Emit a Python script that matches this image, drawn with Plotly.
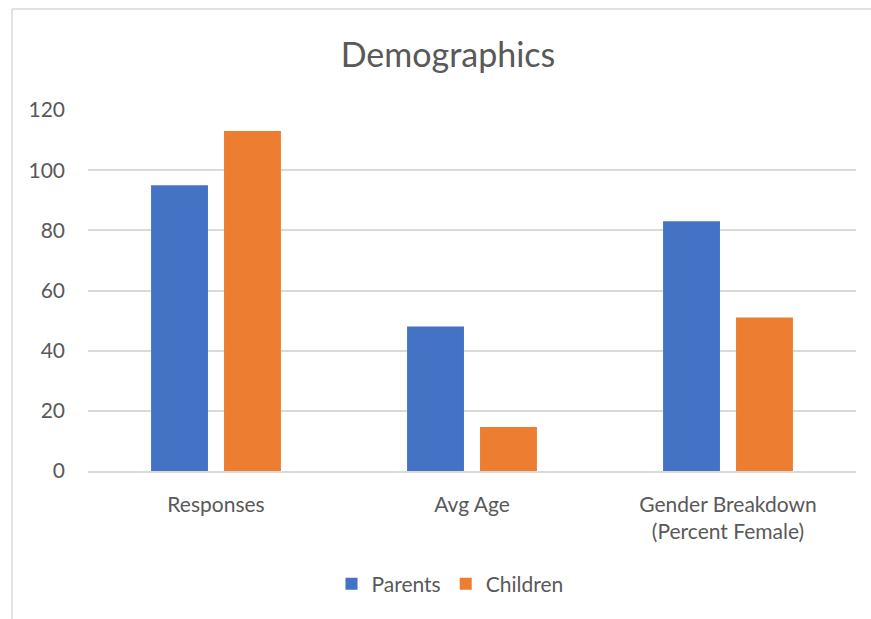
import plotly.graph_objects as go

categories = ["Responses", "Avg Age", "Gender Breakdown<br>(Percent Female)"]
parents = [95, 48, 83]
children = [113, 14.6, 51]
y_ticks = [0, 20, 40, 60, 80, 100, 120]

FONT = "Lato"
TEXT = "#595959"

fig = go.Figure()
fig.add_trace(go.Bar(name="Parents", x=categories, y=parents,
                     marker=dict(color="#4472C4", line=dict(width=0))))
fig.add_trace(go.Bar(name="Children", x=categories, y=children,
                     marker=dict(color="#ED7D31", line=dict(width=0))))

W, H = 871, 619
L, R, T, B = 88, 15, 110, 148
pw, ph = W - L - R, H - T - B

def px_x(x):
    return (x - L) / pw

def px_y(y):
    return (H - B - y) / ph

# chart frame (left and top edges)
fig.add_shape(type="line", xref="paper", yref="paper",
              x0=px_x(12), x1=px_x(12), y0=px_y(640), y1=px_y(9),
              line=dict(color="#d9d9d9", width=1.5))
fig.add_shape(type="line", xref="paper", yref="paper",
              x0=px_x(12), x1=px_x(900), y0=px_y(9), y1=px_y(9),
              line=dict(color="#d9d9d9", width=1.5))

fig.update_layout(
    width=W, height=H,
    margin=dict(l=L, r=R, t=T, b=B),
    paper_bgcolor="white", plot_bgcolor="white",
    barmode="group", bargap=0.43, bargroupgap=0.22,
    font=dict(family=FONT, color=TEXT, size=21),
    title=dict(text="Demographics", xref="container", x=448 / W, xanchor="center",
               y=1 - 55 / H, yanchor="middle",
               font=dict(family=FONT, size=34, color=TEXT)),
    legend=dict(orientation="h", x=px_x(450), xanchor="center",
                y=px_y(584), yanchor="middle",
                font=dict(family=FONT, size=21, color=TEXT),
                itemwidth=30, tracegroupgap=0),
    showlegend=True,
)
fig.update_xaxes(showgrid=False, showline=True, linecolor="#d9d9d9", linewidth=1.5,
                 ticks="", ticklabelstandoff=14, tickfont=dict(size=21, color=TEXT))
fig.update_yaxes(range=[0, 120], tickvals=y_ticks, showgrid=True,
                 gridcolor="#d9d9d9", gridwidth=1.5, zeroline=False,
                 showline=False, ticks="", ticklabelstandoff=22,
                 tickfont=dict(size=21, color=TEXT))

fig.write_html("out.html")
